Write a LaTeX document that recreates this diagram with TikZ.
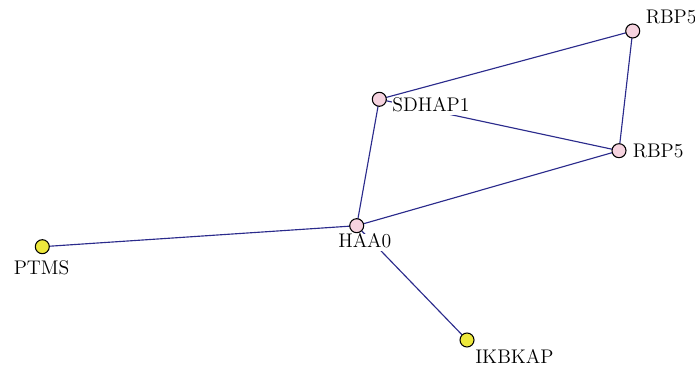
\documentclass[tikz,border=0pt]{standalone}
\usepackage{xcolor}
\definecolor{edgeblue}{HTML}{2B2B8C}
\definecolor{pinkfill}{HTML}{F6D3DF}
\definecolor{yellowfill}{HTML}{EDE83C}
\begin{document}
\begin{tikzpicture}[x=0.75pt,y=-0.75pt,
  vert/.style={circle,draw=black,line width=0.8pt,minimum size=10.5pt,inner sep=0pt},
  pinkv/.style={vert,fill=pinkfill},
  yellowv/.style={vert,fill=yellowfill},
  lbl/.style={fill=white,inner xsep=0pt,inner ysep=0pt,text depth=2.5pt,anchor=base west,font=\fontsize{14.8}{17}\selectfont},
  edge/.style={draw=edgeblue,line width=0.85pt}]
\useasboundingbox (0,0) rectangle (695,370);
\coordinate (cRt) at (632.7,31);
\coordinate (cS) at (379.3,99.3);
\coordinate (cRm) at (619,150.7);
\coordinate (cH) at (356.7,225.7);
\coordinate (cP) at (42.3,246.7);
\coordinate (cI) at (467,340);
\draw[edge] (cS) -- (cRt);
\draw[edge] (cRt) -- (cRm);
\draw[edge] (cS) -- (cRm);
\draw[edge] (cS) -- (cH);
\draw[edge] (cRm) -- (cH);
\draw[edge] (cH) -- (cP);
\draw[edge] (cH) -- (cI);
\node[lbl] (lRt) at (645.5,23.3) {RBP5};
\node[lbl] (lS) at (392,112) {SDHAP1};
\node[lbl] (lRm) at (632.5,157.7) {RBP5};
\node[lbl] (lH) at (338,247.7) {HAA0};
\node[lbl] (lP) at (13.5,274) {PTMS};
\node[lbl] (lI) at (475,363.3) {IKBKAP};
\node[pinkv] (Rt) at (cRt) {};
\node[pinkv] (S) at (cS) {};
\node[pinkv] (Rm) at (cRm) {};
\node[pinkv] (H) at (cH) {};
\node[yellowv] (P) at (cP) {};
\node[yellowv] (I) at (cI) {};
\end{tikzpicture}
\end{document}
